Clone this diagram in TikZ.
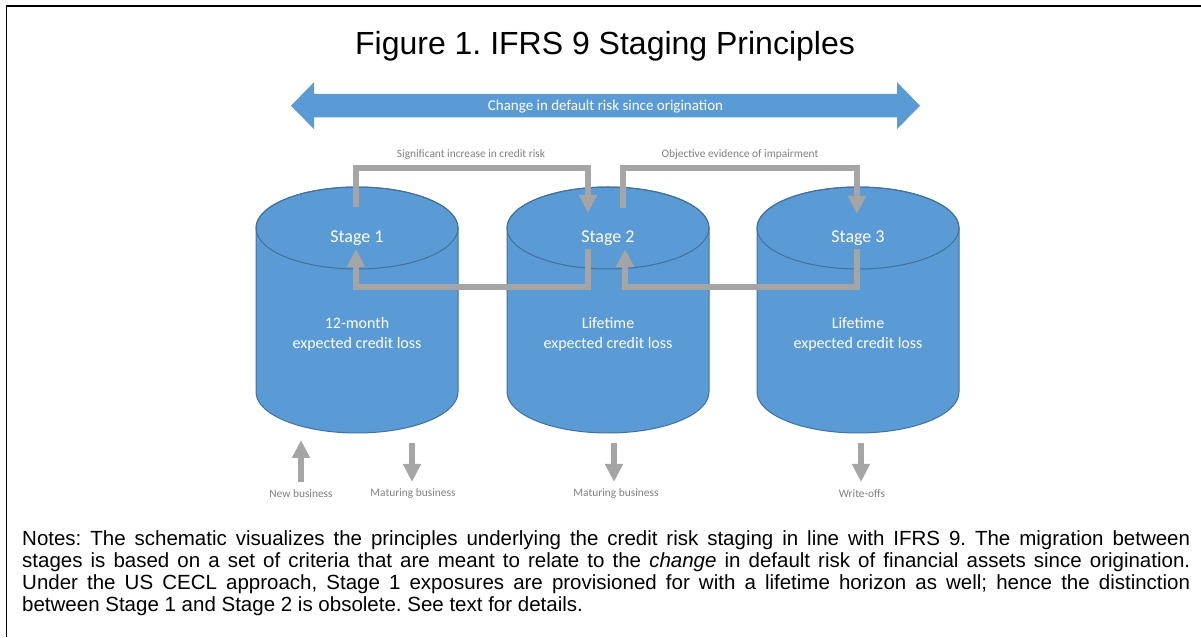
\documentclass[tikz,border=0pt]{standalone}
\usepackage{fontspec}
\setmainfont{Liberation Sans}
\newfontfamily\calibri{Carlito}
\usetikzlibrary{arrows.meta}
\definecolor{cylblue}{HTML}{5B9BD5}
\definecolor{cylline}{HTML}{41719C}
\definecolor{arrgray}{HTML}{A5A5A5}
\definecolor{lblgray}{HTML}{7F7F7F}
\tikzset{
  cylshape/.style={fill=cylblue, draw=cylline, line width=1pt},
  stagetxt/.style={text=white, font=\calibri\fontsize{18}{22}\selectfont},
  bodytxt/.style={text=white, align=center, font=\calibri\fontsize{16}{20}\selectfont},
  lbl/.style={text=lblgray, font=\calibri\fontsize{11.4}{14}\selectfont},
  conn/.style={draw=arrgray, line width=6pt, line join=miter,
    -{Triangle[width=17pt,length=18pt]}},
}
\begin{document}
\frenchspacing
\begin{tikzpicture}[x=1pt,y=1pt]
\useasboundingbox (0,0) rectangle (1201,637);
% frame
\draw[line width=1.5pt] (6.5,0) -- (6.5,631) -- (1201,631);
% title
\node[font=\fontsize{32}{38}\selectfont, anchor=base, inner sep=0] (title) at (605,582) {Figure 1. IFRS 9 Staging Principles};
% big double arrow
\fill[cylblue] (291,531.3) -- (314,554.8) -- (314,543) -- (897,543) -- (897,554.8)
  -- (920,531.3) -- (897,507.8) -- (897,519.6) -- (314,519.6) -- (314,507.8) -- cycle;
\node[text=white, font=\calibri\fontsize{15}{18}\selectfont] (chg) at (605.5,530.5) {Change in default risk since origination};
% cylinders
\foreach \cx in {357,608,858}{
  \path[cylshape] (\cx-101,409) -- (\cx-101,245)
    arc[start angle=180, end angle=360, x radius=101, y radius=41]
    -- (\cx+101,409)
    arc[start angle=0, end angle=180, x radius=101, y radius=41] -- cycle;
  \draw[cylline, line width=1pt] (\cx,409) ellipse[x radius=101, y radius=41];
}
\node[stagetxt] (s1) at (357,399) {Stage 1};
\node[stagetxt] (s2) at (608,399) {Stage 2};
\node[stagetxt] (s3) at (858,399) {Stage 3};
\node[bodytxt] (b1) at (357,303) {12-month\\expected credit loss};
\node[bodytxt] (b2) at (608,303) {Lifetime\\expected credit loss};
\node[bodytxt] (b3) at (858,303) {Lifetime\\expected credit loss};
% migration connectors
\coordinate (a1s) at (356,430); \coordinate (a1e) at (588,424);
\coordinate (a2s) at (623,429); \coordinate (a2e) at (857,423);
\coordinate (a3s) at (588,388); \coordinate (a3e) at (356,388);
\coordinate (a4s) at (857,388); \coordinate (a4e) at (625,388);
\draw[conn] (a1s) -- (356,469) -| (a1e);
\draw[conn] (a2s) -- (623,469) -| (a2e);
\draw[conn] (a3s) -- (588,350) -| (a3e);
\draw[conn] (a4s) -- (857,350) -| (a4e);
\node[lbl] (l1) at (471,482) {Significant increase in credit risk};
\node[lbl] (l2) at (740,482) {Objective evidence of impairment};
% flows in / out
\coordinate (nb0) at (301,155); \coordinate (nb1) at (301,197);
\coordinate (m10) at (412,194); \coordinate (m11) at (412,155);
\coordinate (m20) at (614,194); \coordinate (m21) at (614,155);
\coordinate (w0) at (861,194); \coordinate (w1) at (861,155);
\draw[conn] (nb0) -- (nb1);
\draw[conn] (m10) -- (m11);
\draw[conn] (m20) -- (m21);
\draw[conn] (w0) -- (w1);
\node[lbl] (t1) at (301,143) {New business};
\node[lbl] (t2) at (413,143) {Maturing business};
\node[lbl] (t3) at (616,143) {Maturing business};
\node[lbl] (t4) at (862,143) {Write-offs};
% notes
\node[anchor=north west, inner sep=0, text width=1168pt, align=justify,
  font=\fontsize{20.5}{22}\selectfont] (notes) at (22,107)
 {Notes: The schematic visualizes the principles underlying the credit risk staging in line with IFRS 9. The migration between\linebreak
 stages is based on a set of criteria that are meant to relate to the \emph{change} in default risk of financial assets since origination.\linebreak
 Under the US CECL approach, Stage 1 exposures are provisioned for with a lifetime horizon as well; hence the distinction\linebreak
 between Stage 1 and Stage 2 is obsolete. See text for details.};
\end{tikzpicture}
\end{document}
